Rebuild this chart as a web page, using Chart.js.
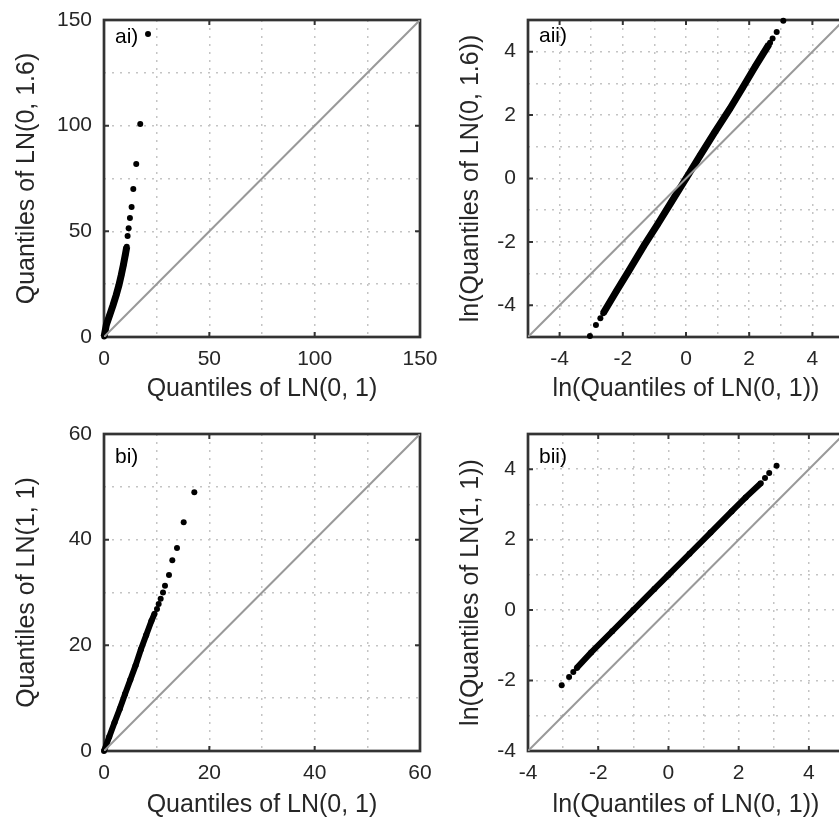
<!DOCTYPE html>
<html lang="en">
<head>
<meta charset="UTF-8">
<script src="https://cdn.jsdelivr.net/npm/chart.js"></script>
<title>QQ plots</title>
<style>
html, body { margin: 0; padding: 0; overflow: hidden; background: #fff; width: 839px; height: 822px; }
canvas { position: absolute; }
</style>
</head>
<body>
<canvas id="ai" width="445" height="410" style="left:0;top:0"></canvas>
<canvas id="bi" width="445" height="412" style="left:0;top:410px"></canvas>
<canvas id="aii" width="434" height="410" style="left:420px;top:0"></canvas>
<canvas id="bii" width="434" height="412" style="left:420px;top:410px"></canvas>

<script>
// ai) quantiles of LN(0,1) (x) vs LN(0,1.6) (y) -- dense band and the sparse tail
const aiBandX = [0.05, 1.1, 2.7, 4.3, 5.8, 7.1, 8.2, 9.2, 10.1, 10.8];
const aiBandY = [0.2, 5.7, 10.4, 15.1, 19.9, 24.6, 29.3, 34.1, 38.8, 42.7];
const aiTailX = [11.2, 11.7, 12.3, 13.1, 13.9, 15.3, 17.2, 20.9];
const aiTailY = [47.8, 51.4, 56.3, 61.5, 70.0, 81.9, 100.8, 143.4];
const aiRef = [0, 150];

// aii) same, log scale
const aiiBandX = [-2.62, -2.2, -1.8, -1.33, -0.9, -0.45, 0, 0.45, 0.9, 1.39, 1.8, 2.2, 2.62];
const aiiBandY = [-4.25, -3.55, -2.9, -2.12, -1.45, -0.72, 0, 0.73, 1.45, 2.2, 2.88, 3.55, 4.22];
const aiiTailX = [-3.04, -2.85, -2.71, 2.66, 2.74, 2.87, 3.08];
const aiiTailY = [-4.97, -4.62, -4.41, 4.28, 4.42, 4.62, 4.98];
const aiiRef = [-5, 5];

// bi) LN(0,1) vs LN(1,1)
const biBandX = [0, 1, 2, 3, 4, 5, 6, 7, 8, 9, 9.6];
const biBandY = [0, 2.7, 5.4, 8.0, 10.8, 13.5, 16.2, 19.2, 21.9, 24.6, 26.0];
const biTailX = [10.06, 10.38, 10.76, 11.2, 11.58, 12.34, 12.97, 13.86, 15.13, 17.15];
const biTailY = [26.9, 27.8, 28.8, 30.0, 31.3, 33.3, 36.1, 38.4, 43.3, 48.96];
const biRef = [0, 60];

// bii) same, log scale
const biiBandX = [-2.61, -2.2, -1.6, -1.0, -0.4, 0, 0.6, 1.2, 1.8, 2.2, 2.63];
const biiBandY = [-1.64, -1.2, -0.6, 0.0, 0.6, 1.0, 1.6, 2.2, 2.8, 3.2, 3.6];
const biiTailX = [-3.04, -2.83, -2.71, 2.75, 2.87, 3.08];
const biiTailY = [-2.13, -1.90, -1.76, 3.75, 3.89, 4.10];
const biiRef = [-4, 5];

const FONT = '"Liberation Sans", Arial, Helvetica, sans-serif';
const TXT = '#262626';

const pts = (xs, ys) => xs.map((x, i) => ({ x: x, y: ys[i] }));

// box, inward ticks and the panel tag (MATLAB style axes)
const boxPlugin = {
    id: 'box',
    beforeDatasetsDraw(chart) {
        const { ctx, chartArea: a, scales: { x, y } } = chart;
        ctx.save();
        ctx.strokeStyle = '#333333';
        ctx.lineWidth = 2;
        ctx.beginPath();
        x.ticks.forEach((t, i) => {
            if (t.label === '') return;
            const p = x.getPixelForTick(i);
            ctx.moveTo(p, a.bottom); ctx.lineTo(p, a.bottom - 5);
            ctx.moveTo(p, a.top); ctx.lineTo(p, a.top + 5);
        });
        y.ticks.forEach((t, i) => {
            if (t.label === '') return;
            const p = y.getPixelForTick(i);
            ctx.moveTo(a.left, p); ctx.lineTo(a.left + 5, p);
            ctx.moveTo(a.right, p); ctx.lineTo(a.right - 5, p);
        });
        ctx.stroke();
        ctx.lineWidth = 2.7;
        ctx.strokeRect(a.left, a.top, a.right - a.left, a.bottom - a.top);
        ctx.restore();
    },
    afterDraw(chart, args, opts) {
        const { ctx, chartArea: a } = chart;
        ctx.save();
        ctx.fillStyle = '#000';
        ctx.font = '21px ' + FONT;
        ctx.textBaseline = 'alphabetic';
        ctx.fillText(opts.text, a.left + 11, a.top + opts.dy);
        ctx.restore();
    }
};

function drawPanel(id, p) {
    const axis = (min, max, title, pad, isX) => ({
        type: 'linear',
        min: min,
        max: max,
        afterFit: s => {
            if (isX) { s.height = p.xAxisH; s.paddingLeft = 0; s.paddingRight = 0; }
            else { s.width = p.yAxisW; s.paddingTop = 0; s.paddingBottom = 0; }
        },
        grid: { color: '#c4c4c4', lineWidth: 1.5, drawTicks: false },
        border: { display: false, dash: [2, 6] },
        ticks: {
            stepSize: p.minor,
            autoSkip: false,
            maxRotation: 0,
            padding: isX ? 10 : 12,
            color: TXT,
            font: { family: FONT, size: 21 },
            callback: v => (Math.abs(v % p.major) < 1e-9 ? v : '')
        },
        title: {
            display: true,
            text: title,
            color: TXT,
            font: { family: FONT, size: 25 },
            padding: isX ? { top: 0, bottom: pad } : { top: pad, bottom: 0 }
        }
    });

    new Chart(document.getElementById(id), {
        type: 'scatter',
        data: {
            datasets: [
                {
                    data: pts(p.ref, p.ref),
                    showLine: true,
                    borderColor: '#999999',
                    borderWidth: 2,
                    pointRadius: 0
                },
                {
                    data: pts(p.bandX, p.bandY),
                    showLine: true,
                    borderColor: '#000',
                    borderWidth: p.bandW,
                    backgroundColor: '#000',
                    pointRadius: 3,
                    pointBorderWidth: 0,
                    clip: false
                },
                {
                    data: pts(p.tailX, p.tailY),
                    backgroundColor: '#000',
                    borderColor: '#000',
                    pointRadius: 3,
                    pointBorderWidth: 0,
                    clip: false
                }
            ]
        },
        options: {
            responsive: false,
            animation: false,
            layout: { padding: { top: p.top, left: 0, right: p.right, bottom: 0 } },
            plugins: {
                legend: { display: false },
                tooltip: { enabled: false },
                box: { text: p.tag, dy: p.tagDy }
            },
            scales: {
                x: axis(p.min, p.max, p.xTitle, p.xTitlePad, true),
                y: axis(p.min, p.max, p.yTitle, p.yTitlePad, false)
            }
        },
        plugins: [boxPlugin]
    });
}

drawPanel('ai', {
    tag: 'ai)', tagDy: 23, min: 0, max: 150, minor: 25, major: 50,
    bandX: aiBandX, bandY: aiBandY, tailX: aiTailX, tailY: aiTailY, ref: aiRef, bandW: 7,
    xTitle: 'Quantiles of LN(0, 1)', yTitle: 'Quantiles of LN(0, 1.6)',
    top: 20, right: 25, yAxisW: 104, xAxisH: 73, xTitlePad: 6, yTitlePad: 12
});
drawPanel('aii', {
    tag: 'aii)', tagDy: 22, min: -5, max: 5, minor: 1, major: 2,
    bandX: aiiBandX, bandY: aiiBandY, tailX: aiiTailX, tailY: aiiTailY, ref: aiiRef, bandW: 7,
    xTitle: 'ln(Quantiles of LN(0, 1))', yTitle: 'ln(Quantiles of LN(0, 1.6))',
    top: 20, right: 10, yAxisW: 108, xAxisH: 73, xTitlePad: 6, yTitlePad: 36
});
drawPanel('bi', {
    tag: 'bi)', tagDy: 29, min: 0, max: 60, minor: 10, major: 20,
    bandX: biBandX, bandY: biBandY, tailX: biTailX, tailY: biTailY, ref: biRef, bandW: 6,
    xTitle: 'Quantiles of LN(0, 1)', yTitle: 'Quantiles of LN(1, 1)',
    top: 24, right: 25, yAxisW: 104, xAxisH: 71, xTitlePad: 2, yTitlePad: 12
});
drawPanel('bii', {
    tag: 'bii)', tagDy: 29, min: -4, max: 5, minor: 1, major: 2,
    bandX: biiBandX, bandY: biiBandY, tailX: biiTailX, tailY: biiTailY, ref: biiRef, bandW: 6,
    xTitle: 'ln(Quantiles of LN(0, 1))', yTitle: 'ln(Quantiles of LN(1, 1))',
    top: 24, right: 10, yAxisW: 108, xAxisH: 71, xTitlePad: 2, yTitlePad: 36
});
</script>
</body>
</html>
